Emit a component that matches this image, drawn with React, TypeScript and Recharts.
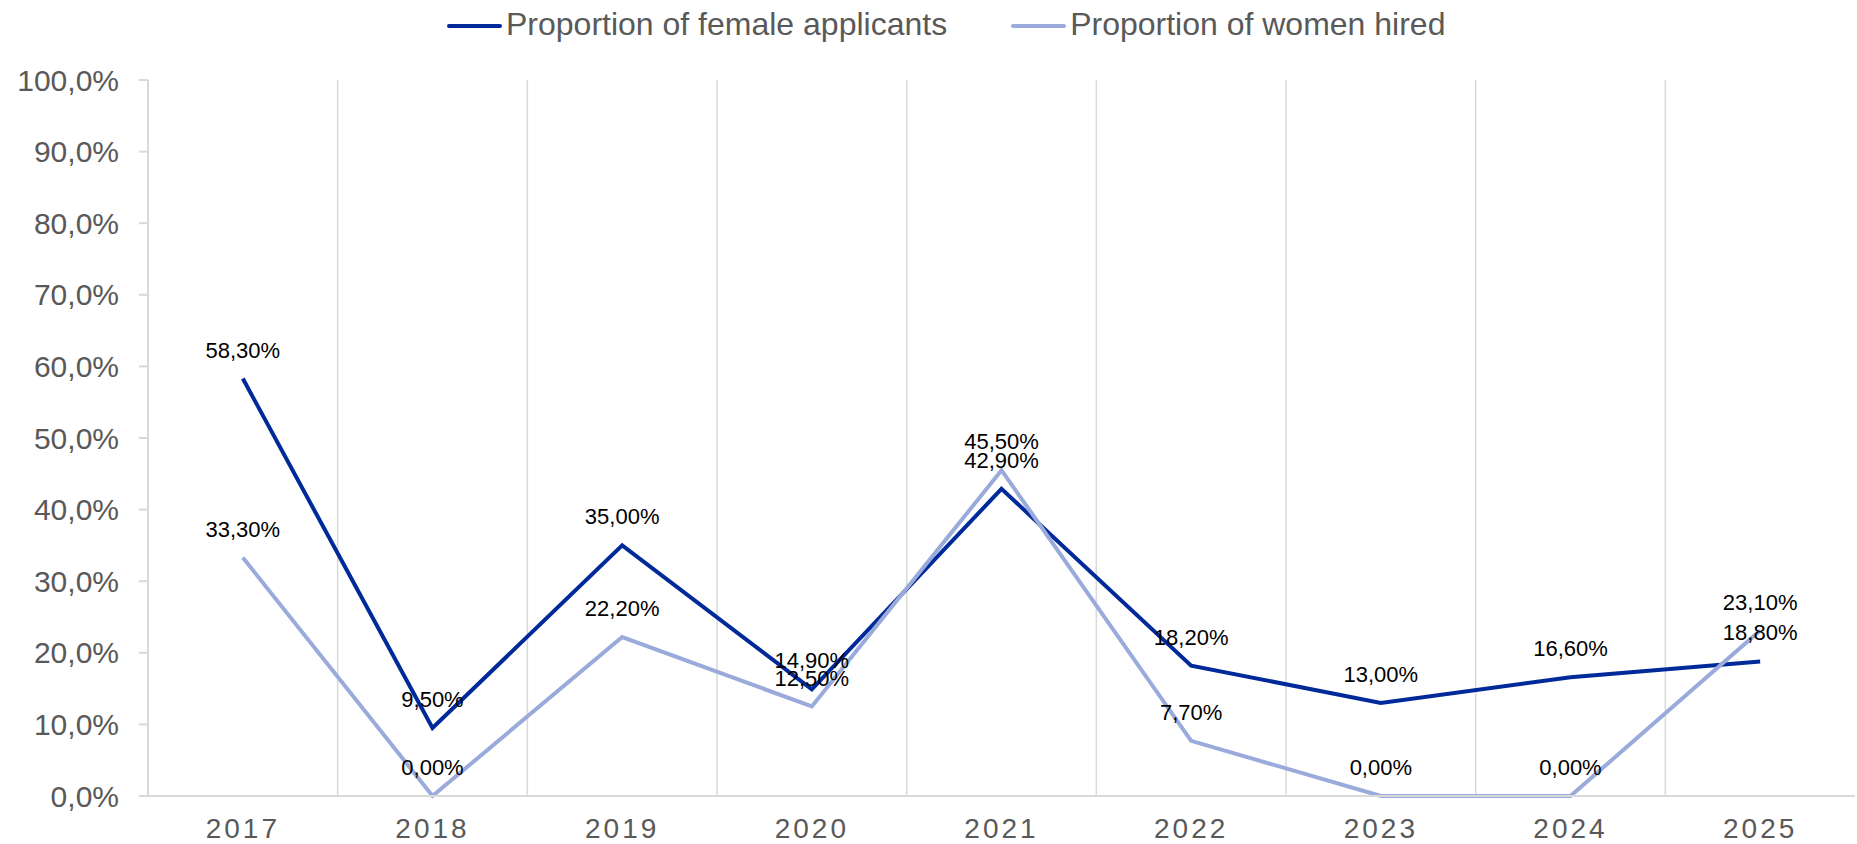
import { LineChart, Line, XAxis, YAxis, Legend, ReferenceLine, LabelList } from 'recharts'

const years = ['2017', '2018', '2019', '2020', '2021', '2022', '2023', '2024', '2025']
const femaleApplicants = [58.3, 9.5, 35.0, 14.9, 42.9, 18.2, 13.0, 16.6, 18.8]
const womenHired = [33.3, 0, 22.2, 12.5, 45.5, 7.7, 0, 0, 23.1]
const yTicks = [0, 10, 20, 30, 40, 50, 60, 70, 80, 90, 100]

const data = years.map((year, i) => ({
  idx: i,
  year,
  applicants: femaleApplicants[i],
  hired: womenHired[i],
}))

const font = '"Liberation Sans", Arial, sans-serif'
const darkBlue = '#00299A'
const lightBlue = '#9AAADB'
const gridGray = '#D9D9D9'
const textGray = '#595959'

const pct1 = (v: number) => v.toFixed(1).replace('.', ',') + '%'
const pct2 = (v: number) => v.toFixed(2).replace('.', ',') + '%'

function ChartLegend({ payload }: any) {
  return (
    <div style={{ height: 80, position: 'relative', fontFamily: font }}>
      <div style={{ display: 'flex', alignItems: 'center', height: 46, paddingTop: 3, paddingLeft: 447 }}>
        {(payload || []).map((item: any, i: number) => (
          <div key={item.value} style={{ display: 'flex', alignItems: 'center', marginLeft: i === 0 ? 0 : 64 }}>
            <span style={{ display: 'inline-block', width: 55, height: 4.5, borderRadius: 2.5, background: item.color }} />
            <span style={{ marginLeft: 4, marginTop: -4, fontSize: 32, color: textGray, whiteSpace: 'nowrap' }}>{item.value}</span>
          </div>
        ))}
      </div>
    </div>
  )
}

export default function App() {
  return (
    <div style={{ position: 'fixed', left: 0, top: 0, width: 1857, height: 844, background: '#fff' }}>
      <LineChart width={1857} height={844} data={data} margin={{ top: 0, right: 2, bottom: 0, left: 0 }}>
        <Legend verticalAlign="top" content={<ChartLegend />} />
        {years.slice(1).map((_, i) => (
          <ReferenceLine key={i} x={i + 0.5} stroke={gridGray} strokeWidth={1.5} />
        ))}
        <XAxis
          type="number"
          dataKey="idx"
          domain={[-0.5, years.length - 0.5]}
          ticks={years.map((_, i) => i)}
          interval={0}
          tickFormatter={(i: number) => years[i]}
          height={48}
          tickLine={false}
          tickSize={0}
          tickMargin={22}
          axisLine={{ stroke: gridGray, strokeWidth: 2 }}
          tick={{ fill: textGray, fontSize: 28, fontFamily: font, letterSpacing: 3 }}
        />
        <YAxis
          domain={[0, 100]}
          ticks={yTicks}
          interval={0}
          width={148}
          tickFormatter={pct1}
          tickSize={9}
          tickMargin={20}
          axisLine={{ stroke: gridGray, strokeWidth: 2 }}
          tickLine={{ stroke: gridGray, strokeWidth: 2 }}
          tick={{ fill: textGray, fontSize: 30, fontFamily: font }}
        />
        <Line
          type="linear"
          dataKey="applicants"
          name="Proportion of female applicants"
          stroke={darkBlue}
          strokeWidth={4}
          dot={false}
          activeDot={false}
          isAnimationActive={false}
        >
          <LabelList dataKey="applicants" position="top" offset={21} formatter={pct2} fill="#000" fontSize={22} fontFamily={font} />
        </Line>
        <Line
          type="linear"
          dataKey="hired"
          name="Proportion of women hired"
          stroke={lightBlue}
          strokeWidth={4}
          dot={false}
          activeDot={false}
          isAnimationActive={false}
        >
          <LabelList dataKey="hired" position="top" offset={21} formatter={pct2} fill="#000" fontSize={22} fontFamily={font} />
        </Line>
      </LineChart>
    </div>
  )
}
